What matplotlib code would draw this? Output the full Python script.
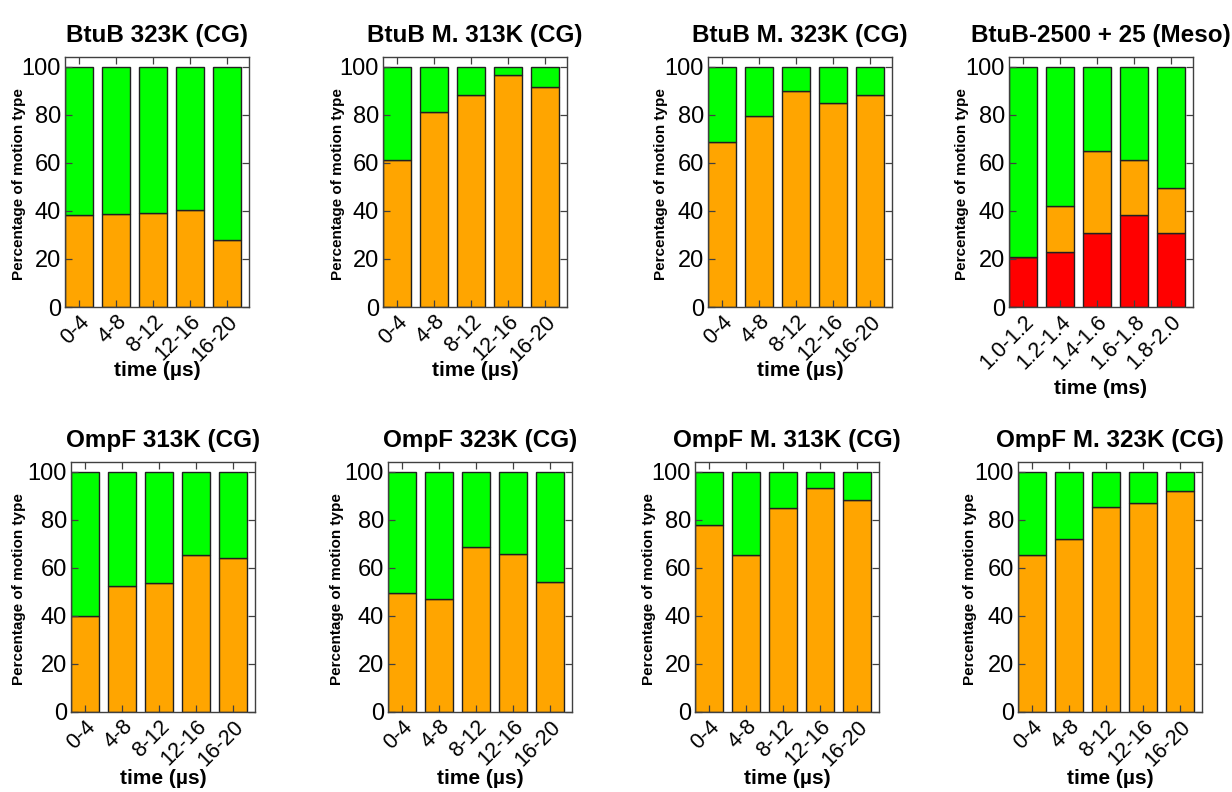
import matplotlib
matplotlib.use("Agg")
import matplotlib.pyplot as plt

plt.rcParams["font.family"] = ["Liberation Sans", "DejaVu Sans"]

us_bins = ["0-4", "4-8", "8-12", "12-16", "16-20"]
ms_bins = ["1.0-1.2", "1.2-1.4", "1.4-1.6", "1.6-1.8", "1.8-2.0"]

titles = ["BtuB 323K (CG)", "BtuB M. 313K (CG)", "BtuB M. 323K (CG)",
          "BtuB-2500 + 25 (Meso)",
          "OmpF 313K (CG)", "OmpF 323K (CG)", "OmpF M. 313K (CG)",
          "OmpF M. 323K (CG)"]

# percentage of each motion type per time window
btub_323_orange = [38.3, 38.5, 38.9, 40.5, 27.7]
btub_323_green = [61.7, 61.5, 61.1, 59.5, 72.3]

btub_m313_orange = [61.2, 81.0, 88.0, 96.5, 91.5]
btub_m313_green = [38.8, 19.0, 12.0, 3.5, 8.5]

btub_m323_orange = [68.8, 79.6, 90.0, 85.0, 88.0]
btub_m323_green = [31.2, 20.4, 10.0, 15.0, 12.0]

meso_red = [20.8, 22.9, 30.7, 38.4, 30.7]
meso_orange = [0.0, 19.2, 34.4, 22.8, 19.0]
meso_green = [79.2, 57.9, 34.9, 38.8, 50.3]

ompf_313_orange = [39.9, 52.4, 53.6, 65.5, 64.0]
ompf_313_green = [60.1, 47.6, 46.4, 34.5, 36.0]

ompf_323_orange = [49.6, 47.2, 68.8, 65.9, 54.0]
ompf_323_green = [50.4, 52.8, 31.2, 34.1, 46.0]

ompf_m313_orange = [77.6, 65.5, 84.8, 93.2, 88.2]
ompf_m313_green = [22.4, 34.5, 15.2, 6.8, 11.8]

ompf_m323_orange = [65.5, 72.0, 85.2, 87.0, 92.0]
ompf_m323_green = [34.5, 28.0, 14.8, 13.0, 8.0]

RED = "#ff0000"
ORANGE = "#ffa500"
GREEN = "#00ff00"


def stacked_panel(ax, title, bins, xlabel, xlabel_y, ylabel_x,
                  red, orange, green):
  x = list(range(len(bins)))
  bottom = [0.0] * len(bins)
  for vals, color in [(red, RED), (orange, ORANGE), (green, GREEN)]:
    if vals is None:
      continue
    ax.bar(x, vals, width=0.76, bottom=bottom, color=color,
           edgecolor="#202020", linewidth=1.0)
    bottom = [b + v for b, v in zip(bottom, vals)]

  ax.set_xlim(-0.38, 4.6)
  ax.set_ylim(0, 104)
  ax.set_yticks([0, 20, 40, 60, 80, 100])
  ax.set_xticks(x)
  ax.set_xticklabels(bins, rotation=45, ha="right", rotation_mode="anchor",
                     fontsize=15.5)
  ax.tick_params(axis="y", labelsize=17)
  ax.tick_params(direction="in", top=True, right=True, length=5,
                 width=0.9, color="#404040", pad=3)
  for sp in ax.spines.values():
    sp.set_color("#404040")
    sp.set_linewidth(1.0)

  ax.set_title(title, fontsize=17.5, fontweight="bold", pad=11)
  ax.set_ylabel("Percentage of motion type", fontsize=11, fontweight="bold")
  ax.yaxis.set_label_coords(ylabel_x, 0.49)
  ax.yaxis.label.set_va("center")
  ax.set_xlabel(xlabel, fontsize=15, fontweight="bold")
  ax.xaxis.set_label_coords(0.5, xlabel_y)
  ax.xaxis.label.set_va("center")


fig = plt.figure(figsize=(12.32, 7.92), dpi=100)

W, H = 1232.0, 792.0
top_lefts = [65, 383, 708, 1009]
bottom_lefts = [71, 388, 695, 1018]
axw = 184 / W
axh = 250 / H
top_b = 1 - 307 / H
bot_b = 1 - 712 / H

panels = [
  (top_lefts[0], top_b, us_bins, "time (µs)", -0.252, -0.25, None,
   btub_323_orange, btub_323_green),
  (top_lefts[1], top_b, us_bins, "time (µs)", -0.252, -0.245, None,
   btub_m313_orange, btub_m313_green),
  (top_lefts[2], top_b, us_bins, "time (µs)", -0.252, -0.255, None,
   btub_m323_orange, btub_m323_green),
  (top_lefts[3], top_b, ms_bins, "time (ms)", -0.324, -0.255, meso_red,
   meso_orange, meso_green),
  (bottom_lefts[0], bot_b, us_bins, "time (µs)", -0.268, -0.283, None,
   ompf_313_orange, ompf_313_green),
  (bottom_lefts[1], bot_b, us_bins, "time (µs)", -0.268, -0.277, None,
   ompf_323_orange, ompf_323_green),
  (bottom_lefts[2], bot_b, us_bins, "time (µs)", -0.268, -0.25, None,
   ompf_m313_orange, ompf_m313_green),
  (bottom_lefts[3], bot_b, us_bins, "time (µs)", -0.268, -0.26, None,
   ompf_m323_orange, ompf_m323_green),
]

for title, p in zip(titles, panels):
  left, b, bins, xlabel, xly, ylx, red, orange, green = p
  ax = fig.add_axes([left / W, b, axw, axh])
  stacked_panel(ax, title, bins, xlabel, xly, ylx, red, orange, green)

fig.savefig("out.png", dpi=100)
